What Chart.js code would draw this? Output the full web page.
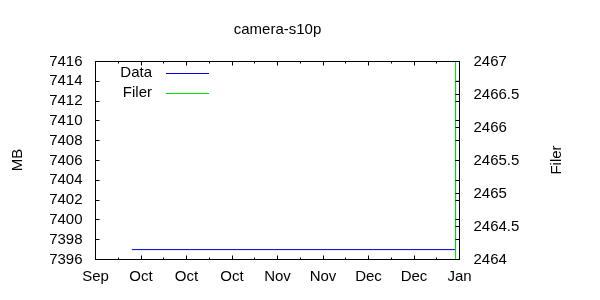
<!DOCTYPE html>
<html>
<head>
<meta charset="utf-8">
<script src="https://cdn.jsdelivr.net/npm/chart.js@4"></script>
<style>
  html, body { margin:0; padding:0; background:#fff; }
  #wrap { width:600px; height:300px; position:relative; }
</style>
</head>
<body>
<div id="wrap"><canvas id="c"></canvas></div>
<script>
// x in days from Sep 16, ticks every 15 days
const X_LABELS = ["Sep","Oct","Oct","Oct","Nov","Nov","Dec","Dec","Jan"];
const MB_TICKS = [7396,7398,7400,7402,7404,7406,7408,7410,7412,7414,7416];
const FILER_TICKS = [2464,2464.5,2465,2465.5,2466,2466.5,2467];

const dataX = [12, 118.7, 118.7, 121];
const dataY = [7397, 7397, 7414, 7414];
const filerX = [118.7, 118.7];
const filerY = [2463, 2468];

const BLUE = "#0000d8";
const GREEN = "#00e000";
const FONT = "'Liberation Sans', Arial, sans-serif";

Chart.defaults.font.family = FONT;
Chart.defaults.font.size = 15;
Chart.defaults.color = "#000";

const pts = (xs, ys) => xs.map((x,i) => ({x, y: ys[i]}));

const frame = {
  id: "frame",
  afterDraw(chart){
    const {ctx, chartArea:a, scales} = chart;
    const L = Math.floor(a.left)+0.5, R = Math.floor(a.right)+0.5;
    const T = Math.floor(a.top)+0.5, B = Math.floor(a.bottom)+0.5;
    ctx.save();
    ctx.strokeStyle = "#000";
    ctx.lineWidth = 1;
    ctx.beginPath();
    ctx.rect(L, T, R-L, B-T);
    // left axis ticks, mirrored on right
    MB_TICKS.forEach(v => {
      const y = Math.floor(scales.y.getPixelForValue(v))+0.5;
      ctx.moveTo(L, y); ctx.lineTo(L+4, y);
      ctx.moveTo(R, y); ctx.lineTo(R-4, y);
    });
    FILER_TICKS.forEach(v => {
      const y = Math.floor(scales.y2.getPixelForValue(v))+0.5;
      ctx.moveTo(R, y); ctx.lineTo(R-4, y);
    });
    // x ticks, major + minor, bottom and top
    for (let d = 0; d <= 120; d += 7.5){
      const x = Math.floor(scales.x.getPixelForValue(d))+0.5;
      const len = (d % 15 === 0) ? 4 : 2;
      ctx.moveTo(x, B); ctx.lineTo(x, B-len);
      ctx.moveTo(x, T); ctx.lineTo(x, T+len);
    }
    ctx.stroke();

    // titles
    ctx.fillStyle = "#000";
    ctx.font = "15px " + FONT;
    ctx.textAlign = "center";
    ctx.textBaseline = "middle";
    ctx.fillText("camera-s10p", (a.left+a.right)/2, 30);
    ctx.save(); ctx.translate(18, 160); ctx.rotate(-Math.PI/2); ctx.fillText("MB", 0, 0); ctx.restore();
    ctx.save(); ctx.translate(557, 160); ctx.rotate(-Math.PI/2); ctx.fillText("Filer", 0, 0); ctx.restore();

    // legend (gnuplot style)
    ctx.textAlign = "right";
    chart.data.datasets.forEach((ds, i) => {
      const y = 73 + i*20;
      ctx.fillStyle = "#000";
      ctx.fillText(ds.label, 152, y);
      ctx.strokeStyle = ds.borderColor;
      ctx.beginPath();
      ctx.moveTo(166, y+0.5); ctx.lineTo(209, y+0.5);
      ctx.stroke();
    });
    ctx.restore();
  }
};

new Chart(document.getElementById("c"), {
  type: "line",
  data: {
    datasets: [
      { label:"Data", data: pts(dataX, dataY), yAxisID:"y", borderColor:BLUE, backgroundColor:BLUE, fill:false, borderWidth:1, pointRadius:0, tension:0, order:1 },
      { label:"Filer", data: pts(filerX, filerY), yAxisID:"y2", borderColor:GREEN, backgroundColor:GREEN, fill:false, borderWidth:1, pointRadius:0, tension:0, order:0 }
    ]
  },
  options: {
    responsive:true,
    maintainAspectRatio:false,
    animation:false,
    layout:{ padding:{ top:61.5, left:0, right:0, bottom:0 } },
    plugins:{ legend:{ display:false }, title:{ display:false }, tooltip:{ enabled:false } },
    scales:{
      x:{
        type:"linear", min:0, max:120,
        grid:{ display:false, drawTicks:false }, border:{ display:false },
        ticks:{ stepSize:15, autoSkip:false, maxRotation:0, padding:8,
          callback:(v, i) => X_LABELS[i] },
        afterFit:(s) => { s.height = 40.5; }
      },
      y:{
        position:"left", min:7396, max:7416,
        grid:{ display:false, drawTicks:false }, border:{ display:false },
        ticks:{ stepSize:2, autoSkip:false, padding:13, callback:(v) => String(v) },
        afterFit:(s) => { s.width = 95.5; }
      },
      y2:{
        position:"right", min:2464, max:2467,
        grid:{ display:false, drawTicks:false }, border:{ display:false },
        ticks:{ stepSize:0.5, autoSkip:false, padding:14, callback:(v) => String(v) },
        afterFit:(s) => { s.width = 140.5; }
      }
    }
  },
  plugins:[frame]
});
</script>
</body>
</html>
